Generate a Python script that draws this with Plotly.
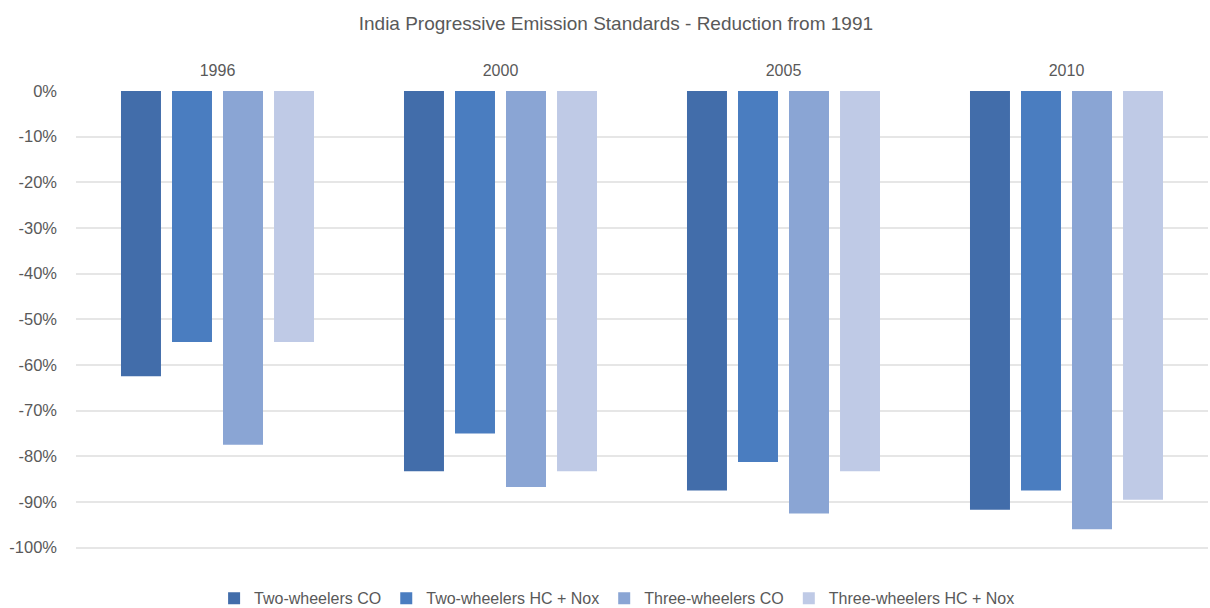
import plotly.graph_objects as go

years = ["1996", "2000", "2005", "2010"]
two_co = [-0.625, -0.833, -0.875, -0.917]
two_hc = [-0.55, -0.75, -0.8125, -0.875]
three_co = [-0.775, -0.867, -0.925, -0.96]
three_hc = [-0.55, -0.833, -0.833, -0.895]

tick_vals = [0, -0.1, -0.2, -0.3, -0.4, -0.5, -0.6, -0.7, -0.8, -0.9, -1.0]
tick_labels = ["0%", "-10%", "-20%", "-30%", "-40%", "-50%", "-60%", "-70%", "-80%", "-90%", "-100%"]

series = [
    ("Two-wheelers CO", two_co, "#426DAA"),
    ("Two-wheelers HC + Nox", two_hc, "#4A7DC0"),
    ("Three-wheelers CO", three_co, "#8AA5D4"),
    ("Three-wheelers HC + Nox", three_hc, "#BFCAE6"),
]

fig = go.Figure()
for name, vals, color in series:
    fig.add_trace(go.Bar(x=years, y=vals, name=name, marker_color=color,
                         marker_line_width=0))

font_color = "#595959"
fig.update_layout(
    width=1210, height=608,
    paper_bgcolor="white", plot_bgcolor="white",
    font=dict(family="Liberation Sans, Arial, sans-serif", size=16, color=font_color),
    title=dict(text="India Progressive Emission Standards - Reduction from 1991",
               x=0.509, xanchor="center", y=0.962, yanchor="middle",
               font=dict(size=19, color=font_color)),
    margin=dict(l=76, r=2, t=90, b=59),
    barmode="group", bargap=0.279, bargroupgap=0.216,
    showlegend=True,
    legend=dict(orientation="h", x=0.478, xanchor="center",
                yref="container", y=0.016, yanchor="middle",
                font=dict(size=16, color=font_color),
                traceorder="normal"),
    xaxis=dict(side="top", showgrid=False, showline=False, ticks="",
               automargin=False, ticklabelstandoff=10,
               tickfont=dict(size=16, color=font_color)),
    yaxis=dict(range=[-1.003, 0.002], tickvals=tick_vals, ticktext=tick_labels,
               showgrid=True, gridcolor="#E6E6E6", gridwidth=1.5,
               zeroline=False, showline=False, ticks="",
               automargin=False, ticklabelstandoff=18,
               tickfont=dict(size=16.5, color=font_color)),
)

fig.write_html("out.html", config={"displayModeBar": False},
               post_script="document.body.style.margin='0';")
